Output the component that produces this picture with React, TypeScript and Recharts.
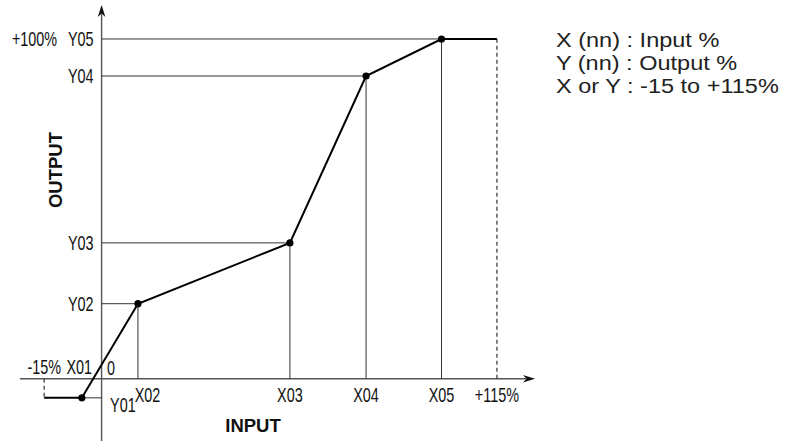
import React from 'react';
import { ComposedChart, Line, XAxis, YAxis, ReferenceLine, ReferenceDot } from 'recharts';

// ---- data (schematic percent units) ----
const xNames = ['X01', 'X02', 'X03', 'X04', 'X05'];
const yNames = ['Y01', 'Y02', 'Y03', 'Y04', 'Y05'];
const xKnots = [-5.8, 10.7, 55.4, 77.8, 100];
const yKnots = [-5.6, 22.1, 40.0, 89.1, 100];
const rangeEnds = [-16.9, 116.3];
const rangeLabels = ['-15%', '+115%'];
const topLabel = '+100%';
const zeroLabel = '0';
const legendLines = ['X (nn) : Input %', 'Y (nn) : Output %', 'X or Y : -15 to +115%'];
const xTitle = 'INPUT';
const yTitle = 'OUTPUT';
const xDomain = [-24, 127.5];
const yDomain = [-18.3, 110];

const lineData = [
  { x: rangeEnds[0], y: yKnots[0] },
  ...xKnots.map((x, i) => ({ x, y: yKnots[i] })),
  { x: rangeEnds[1], y: yKnots[yKnots.length - 1] },
];

const FONT = '"Liberation Sans", Arial, Helvetica, sans-serif';
const THIN = '#333';

const CondText = ({ x, y, anchor, children }: any) => (
  <text
    transform={`translate(${x} ${y}) scale(0.72 1)`}
    textAnchor={anchor}
    fontSize={20}
    fontFamily={FONT}
    fill="#111"
  >
    {children}
  </text>
);

const tag = (key: string, xv: number, yv: number, text: string, dx: number, dy: number, anchor: string) => (
  <ReferenceDot
    key={key}
    x={xv}
    y={yv}
    r={0}
    ifOverflow="visible"
    shape={(p: any) => (
      <CondText x={p.cx + dx} y={p.cy + dy} anchor={anchor}>
        {text}
      </CondText>
    )}
  />
);

const arrowLine = (p: any) => {
  const { x1, y1, x2, y2 } = p;
  const ang = Math.atan2(y2 - y1, x2 - x1);
  const L = 12, W = 3.8, N = 8.5;
  const ux = Math.cos(ang), uy = Math.sin(ang);
  const nx = -uy, ny = ux;
  const bx = x2 - ux * L, by = y2 - uy * L;
  const mx = x2 - ux * N, my = y2 - uy * N;
  return (
    <g>
      <line x1={x1} y1={y1} x2={mx} y2={my} stroke="#555" strokeWidth={1.4} />
      <path
        d={`M${x2},${y2} L${bx + nx * W},${by + ny * W} L${mx},${my} L${bx - nx * W},${by - ny * W} Z`}
        fill="#111"
      />
    </g>
  );
};

const renderDot = (p: any) => {
  const { cx, cy, index } = p;
  if (index >= 1 && index <= xKnots.length) {
    return <circle key={`d${index}`} cx={cx} cy={cy} r={3.6} fill="#000" />;
  }
  return <g key={`d${index}`} />;
};

export default function App() {
  const n = xKnots.length;
  const drops: React.ReactNode[] = [];
  for (let i = 0; i < n; i++) {
    drops.push(
      <ReferenceLine
        key={`h${i}`}
        segment={[{ x: 0, y: yKnots[i] }, { x: xKnots[i], y: yKnots[i] }]}
        stroke={THIN}
        strokeWidth={1}
        ifOverflow="visible"
      />
    );
    if (i > 0) {
      drops.push(
        <ReferenceLine
          key={`v${i}`}
          segment={[{ x: xKnots[i], y: 0 }, { x: xKnots[i], y: yKnots[i] }]}
          stroke={THIN}
          strokeWidth={1}
          ifOverflow="visible"
        />
      );
    }
  }

  const labels: React.ReactNode[] = [];
  labels.push(tag('top', 0, yKnots[4], topLabel, -44.5, 7, 'end'));
  for (let i = 1; i < n; i++) labels.push(tag(`yl${i}`, 0, yKnots[i], yNames[i], -8, 7, 'end'));
  labels.push(tag('yl0', 0, yKnots[0], yNames[0], 8.5, 14, 'start'));
  labels.push(tag('xl0', 0, 0, xNames[0], -9.5, -5, 'end'));
  labels.push(tag('zero', 0, 0, zeroLabel, 5.5, -4, 'start'));
  labels.push(tag('lo', rangeEnds[0], 0, rangeLabels[0], 17, -5, 'end'));
  labels.push(tag('xl1', xKnots[1], 0, xNames[1], 9.5, 23, 'middle'));
  for (let i = 2; i < n; i++) labels.push(tag(`xl${i}`, xKnots[i], 0, xNames[i], 0, 23, 'middle'));
  labels.push(tag('hi', rangeEnds[1], 0, rangeLabels[1], 0, 23, 'middle'));

  return (
    <div style={{ position: 'absolute', left: 0, top: 0, width: 792, height: 441, background: '#fff' }}>
      <ComposedChart
        width={792}
        height={441}
        data={lineData}
        margin={{ top: 5, right: 257, bottom: 0, left: 20 }}
      >
        <XAxis type="number" dataKey="x" domain={xDomain} hide allowDataOverflow />
        <YAxis type="number" domain={yDomain} hide allowDataOverflow />
        <ReferenceLine
          segment={[{ x: xDomain[0], y: 0 }, { x: xDomain[1], y: 0 }]}
          ifOverflow="visible"
          shape={arrowLine}
        />
        <ReferenceLine
          segment={[{ x: 0, y: yDomain[0] }, { x: 0, y: yDomain[1] }]}
          ifOverflow="visible"
          shape={arrowLine}
        />
        {drops}
        <ReferenceLine
          segment={[{ x: rangeEnds[0], y: 0 }, { x: rangeEnds[0], y: yKnots[0] }]}
          stroke="#333"
          strokeWidth={1.2}
          strokeDasharray="4 3"
          ifOverflow="visible"
        />
        <ReferenceLine
          segment={[{ x: rangeEnds[1], y: 0 }, { x: rangeEnds[1], y: yKnots[n - 1] }]}
          stroke="#333"
          strokeWidth={1.2}
          strokeDasharray="4 3"
          ifOverflow="visible"
        />
        <Line
          type="linear"
          dataKey="y"
          stroke="#000"
          strokeWidth={2}
          dot={renderDot}
          activeDot={false}
          isAnimationActive={false}
        />
        {labels}
      </ComposedChart>
      <svg
        width={792}
        height={441}
        style={{ position: 'absolute', left: 0, top: 0, pointerEvents: 'none' }}
      >
        <text x={253} y={432} textAnchor="middle" fontFamily={FONT} fontWeight="bold" fontSize={18.5} fill="#111">
          {xTitle}
        </text>
        <text
          transform="translate(61.5 170) rotate(-90)"
          textAnchor="middle"
          fontFamily={FONT}
          fontWeight="bold"
          fontSize={18.5}
          fill="#111"
        >
          {yTitle}
        </text>
        {legendLines.map((t, i) => (
          <text
            key={t}
            transform={`translate(556 ${46.5 + i * 23}) scale(1.12 1)`}
            fontFamily={FONT}
            fontSize={21}
            fill="#222"
          >
            {t}
          </text>
        ))}
      </svg>
    </div>
  );
}
